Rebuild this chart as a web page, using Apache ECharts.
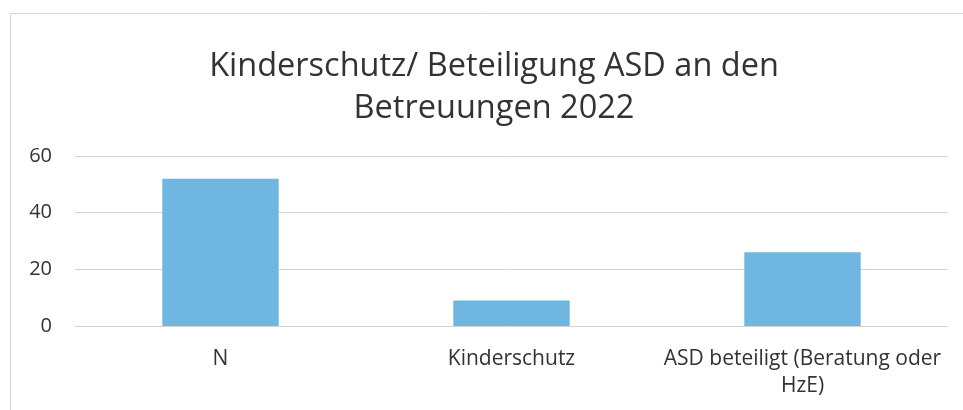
<!DOCTYPE html>
<html>
<head>
<meta charset="utf-8">
<script src="https://cdn.jsdelivr.net/npm/echarts@6/dist/echarts.min.js"></script>
<style>
html,body{margin:0;padding:0;background:#fff;}
#c{width:963px;height:410px;}
</style>
</head>
<body>
<div id="c"></div>
<script>
const titleText = "Kinderschutz/ Beteiligung ASD an den\nBetreuungen 2022";
const categories = ["N", "Kinderschutz", "ASD beteiligt (Beratung oder\nHzE)"];
const values = [52, 9, 26];
const yTicks = [0, 20, 40, 60];

const chart = echarts.init(document.getElementById('c'));
chart.setOption({
  backgroundColor: '#ffffff',
  animation: false,
  title: {
    text: titleText,
    left: 489,
    top: 41,
    textAlign: 'center',
    textStyle: {
      fontFamily: 'Open Sans',
      fontSize: 32.5,
      fontWeight: 'normal',
      color: '#333333',
      lineHeight: 42
    }
  },
  graphic: [{
    type: 'rect',
    shape: {x: 10.5, y: 13.5, width: 1000, height: 500},
    style: {fill: 'none', stroke: '#d6d6d6', lineWidth: 1},
    silent: true
  }],
  grid: {left: 75, right: 15, top: 156, bottom: 84},
  xAxis: {
    type: 'category',
    data: categories,
    axisLine: {show: false},
    axisTick: {show: false},
    axisLabel: {
      interval: 0,
      fontFamily: 'Open Sans',
      fontSize: 21,
      color: '#333333',
      margin: 20,
      lineHeight: 27
    }
  },
  yAxis: {
    type: 'value',
    min: yTicks[0],
    max: yTicks[yTicks.length - 1],
    interval: 20,
    axisLine: {show: false},
    axisTick: {show: false},
    splitLine: {lineStyle: {color: '#d4d4d4', width: 1}},
    axisLabel: {
      fontFamily: 'Open Sans',
      fontSize: 20,
      color: '#333333',
      margin: 23
    }
  },
  series: [{
    type: 'bar',
    data: values,
    barWidth: '40%',
    itemStyle: {color: '#6FB6E1'}
  }]
});
</script>
</body>
</html>
